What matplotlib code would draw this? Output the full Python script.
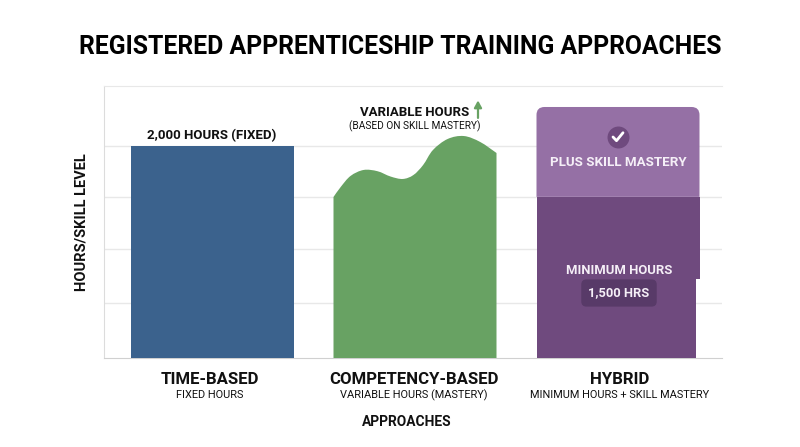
from matplotlib import pyplot as plt
from matplotlib.patches import PathPatch
from matplotlib.path import Path
import numpy as np

plt.rcParams['font.family'] = ['Roboto', 'DejaVu Sans']

W, H = 800, 447

categories = ['TIME-BASED', 'COMPETENCY-BASED', 'HYBRID']
subtitles = ['FIXED HOURS', 'VARIABLE HOURS (MASTERY)', 'MINIMUM HOURS + SKILL MASTERY']
time_hours = 2000
hybrid_min_hours = 1520
hybrid_top_hours = 2368
hybrid_notch_hours = 745
grid_hours = [520, 1030, 1520, 2000]

# green outline: position across the bar and height
curve_pos = [0.0, 0.045, 0.105, 0.185, 0.27, 0.35, 0.425, 0.49, 0.55, 0.61, 0.70, 0.80, 0.90, 1.0]
curve_hours = [1519, 1615, 1718, 1774, 1762, 1712, 1689, 1726, 1821, 1962, 2066, 2094, 2038, 1934]

BLUE = '#3b628d'
GREEN = '#68a263'
PURPLE = '#6f4a7e'
LIGHT_PURPLE = '#9570a5'
BADGE = '#583a68'
BAR_W = 163 / 203


def smooth_area(xs, ys, base):
    # catmull-rom through the read points, as bezier segments
    pts = np.column_stack([xs, ys])
    verts = [(xs[0], base), pts[0]]
    codes = [Path.MOVETO, Path.LINETO]
    for i in range(len(pts) - 1):
        p0 = pts[max(i - 1, 0)]
        p3 = pts[min(i + 2, len(pts) - 1)]
        verts += [pts[i] + (pts[i + 1] - p0) / 6, pts[i + 1] - (p3 - pts[i]) / 6, pts[i + 1]]
        codes += [Path.CURVE4] * 3
    verts += [(xs[-1], base), (xs[0], base)]
    codes += [Path.LINETO, Path.CLOSEPOLY]
    return Path(verts, codes)


def top_rounded(x0, x1, y0, y1, rx, ry):
    verts = [(x0, y0), (x0, y1 - ry), (x0, y1), (x0 + rx, y1), (x1 - rx, y1), (x1, y1),
             (x1, y1 - ry), (x1, y0), (x0, y0)]
    codes = [Path.MOVETO, Path.LINETO, Path.CURVE3, Path.CURVE3, Path.LINETO, Path.CURVE3,
             Path.CURVE3, Path.LINETO, Path.CLOSEPOLY]
    return Path(verts, codes)


def label(x, y, s, size, weight='bold', color='#111111', **kw):
    # x and y in pixels of the figure, from the top left
    fig.text(x / W, 1 - y / H, s, fontsize=size, fontweight=weight, color=color,
             ha='center', va='center', **kw)


fig = plt.figure(figsize=(W / 100, H / 100), dpi=100)
ax = fig.add_axes([104 / W, 1 - 358 / H, (722 - 104) / W, (358 - 86) / H])
ax.set_xlim(-108 / 203, 510 / 203)
ax.set_ylim(0, 2566)
ax.set_xticks([])
ax.set_yticks(grid_hours)
ax.set_yticklabels([])
ax.tick_params(length=0)
ax.grid(axis='y', color='#e8e8e8', lw=1)
ax.set_axisbelow(True)
ax.spines['right'].set_visible(False)
ax.spines['top'].set_color('#e8e8e8')
ax.spines['left'].set_color('#dcdcdc')
ax.spines['bottom'].set_color('#d0d0d0')

ax.bar(0, time_hours, BAR_W, color=BLUE, zorder=3)

xs = 1 - BAR_W / 2 + np.array(curve_pos) * BAR_W
ax.add_patch(PathPatch(smooth_area(xs, np.array(curve_hours), 0), fc=GREEN, ec='none', zorder=3))

ax.bar(2, hybrid_min_hours - hybrid_notch_hours, BAR_W, bottom=hybrid_notch_hours, color=PURPLE, zorder=3)
ax.bar(2 - 2 / 203, hybrid_notch_hours, BAR_W - 4 / 203, color=PURPLE, zorder=3)
ax.add_patch(PathPatch(top_rounded(2 - BAR_W / 2, 2 + BAR_W / 2, hybrid_min_hours, hybrid_top_hours,
                                   8 / 203, 75), fc=LIGHT_PURPLE, ec='none', zorder=3))

# check badge
ax.scatter([2], [2085], s=250, color=PURPLE, zorder=4, linewidths=0)
ax.plot([2 - 5 / 203, 2 - 1.5 / 203, 2 + 5 / 203], [2085, 2050, 2125], color='white', lw=2,
        solid_capstyle='round', solid_joinstyle='round', zorder=5)

# arrow beside the variable hours label
ax.annotate('', xy=(1 + 63 / 203, 2430), xytext=(1 + 63 / 203, 2265), zorder=5,
            arrowprops=dict(arrowstyle='-|>,head_width=0.22,head_length=0.4', color=GREEN, lw=1.6,
                            shrinkA=0, shrinkB=0))

label(400, 46.5, 'REGISTERED APPRENTICESHIP TRAINING APPROACHES', 17.8, color='black')
label(212, 136, '2,000 HOURS (FIXED)', 9.5)
label(414.5, 112, 'VARIABLE HOURS', 9.5)
label(415, 126, '(BASED ON SKILL MASTERY)', 7.3, weight='normal')
label(618.5, 162.5, 'PLUS SKILL MASTERY', 9.6, color='#f5eff7')
label(619, 270.5, 'MINIMUM HOURS', 9.4, color='#f5eff7')
label(619, 293, '1,500 HRS', 9.3, color='#f5eff7',
      bbox=dict(boxstyle='round,pad=0.55,rounding_size=0.4', fc=BADGE, ec='none'))

for x, name, sub in zip([210, 414, 620], categories, subtitles):
    label(x, 379, name, 12.1)
    label(x, 395.5, sub, 7.9, weight='normal')

label(407, 422.5, 'APPROACHES', 9.9)
label(82, 222, 'HOURS/SKILL LEVEL', 10.5, rotation=90)

fig.savefig('out.png', dpi=100)
